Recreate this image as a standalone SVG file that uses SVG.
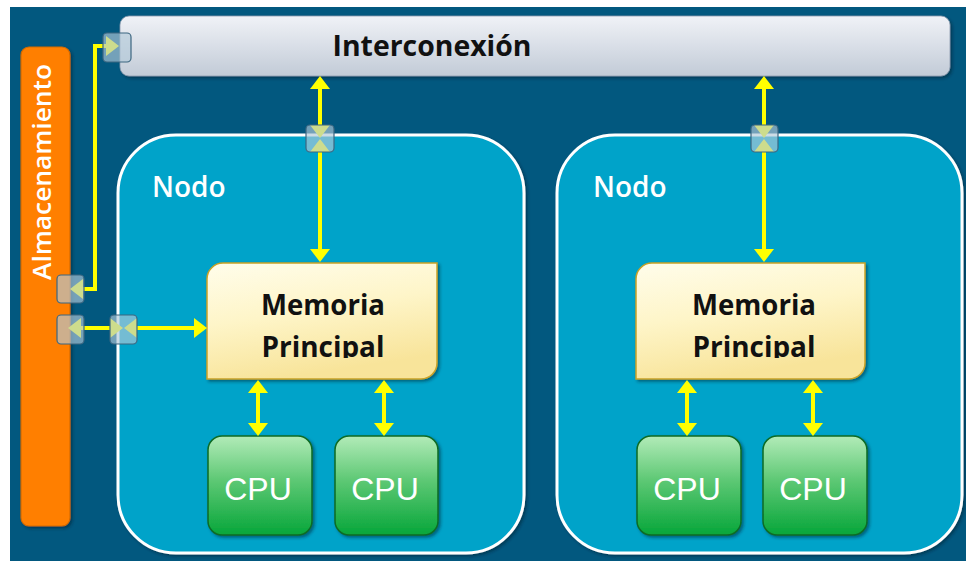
<svg xmlns="http://www.w3.org/2000/svg" width="966" height="561" viewBox="0 0 966 561">
  <defs>
    <linearGradient id="gBar" x1="0" y1="0" x2="0" y2="1">
      <stop offset="0" stop-color="#F0F2F7"/>
      <stop offset="1" stop-color="#C2CBD7"/>
    </linearGradient>
    <linearGradient id="gMem" x1="0" y1="0" x2="0.3" y2="1">
      <stop offset="0" stop-color="#FFFDEB"/>
      <stop offset="0.5" stop-color="#FEF5C8"/>
      <stop offset="1" stop-color="#F8E49A"/>
    </linearGradient>
    <linearGradient id="gCpu" x1="0" y1="0" x2="0" y2="1">
      <stop offset="0" stop-color="#B2EBB8"/>
      <stop offset="0.45" stop-color="#5DC874"/>
      <stop offset="1" stop-color="#07A63A"/>
    </linearGradient>
    <filter id="sh" x="-10%" y="-10%" width="125%" height="125%">
      <feDropShadow dx="2" dy="2" stdDeviation="1.5" flood-color="#002030" flood-opacity="0.5"/>
    </filter>
    <marker id="ah" markerUnits="userSpaceOnUse" markerWidth="14" markerHeight="20" refX="3" refY="10" orient="auto-start-reverse">
      <path d="M0,0 L13,10 L0,20 Z" fill="#FFFF00"/>
    </marker>
    <clipPath id="clipL"><rect x="207" y="263" width="231" height="95"/></clipPath>
    <clipPath id="clipR"><rect x="636" y="263" width="231" height="95"/></clipPath>
  </defs>
  <style>
    .node { fill: #00A3C9; stroke: #FFFFFF; stroke-width: 3; }
    .lbl { font-family: "Open Sans", "DejaVu Sans", sans-serif; font-weight: 600; }
    .bold { font-weight: 700; }
    .mem { fill: url(#gMem); stroke: #C9A227; stroke-width: 1.5; }
    .cpu { fill: url(#gCpu); stroke: #0B6B25; stroke-width: 1.5; }
    .cpuT { font-family: "Liberation Sans", Arial, sans-serif; font-size: 32px; fill: #FFFFFF; text-anchor: middle; }
    .memT { font-size: 28px; fill: #111111; text-anchor: middle; }
    .arr { fill: none; stroke: #FFFF00; stroke-width: 4; marker-start: url(#ah); marker-end: url(#ah); }
    .port { fill: #B2C9D8; fill-opacity: 0.65; stroke: #3C6680; stroke-width: 1.2; }
  </style>

  <rect x="10" y="7" width="956" height="554" fill="#02587F"/>

  <g id="interconexion">
    <rect x="120" y="16" width="830" height="60" rx="9" fill="url(#gBar)" stroke="#8C9BAE" stroke-width="0.8" filter="url(#sh)"/>
    <text class="lbl bold" x="432" y="56" font-size="28" fill="#111111" text-anchor="middle" textLength="199" lengthAdjust="spacingAndGlyphs">Interconexión</text>
  </g>

  <g id="almacenamiento">
    <rect x="21" y="47" width="49" height="479" rx="8" fill="#FF7F00" stroke="#D26A00" stroke-width="1.2" filter="url(#sh)"/>
    <text class="lbl" transform="translate(51,172) rotate(-90)" font-size="26" fill="#FFFFFF" text-anchor="middle" textLength="216" lengthAdjust="spacingAndGlyphs">Almacenamiento</text>
  </g>

  <g id="nodo1">
    <rect class="node" x="118" y="135" width="406" height="418" rx="58" filter="url(#sh)"/>
    <text class="lbl" x="152" y="197" font-size="28" fill="#FFFFFF">Nodo</text>
  </g>

  <g id="nodo2">
    <rect class="node" x="557" y="135" width="405" height="418" rx="58" filter="url(#sh)"/>
    <text class="lbl" x="593" y="197" font-size="28" fill="#FFFFFF">Nodo</text>
  </g>

  <g id="memoria1">
    <path class="mem" d="M207,279 A16,16 0 0 1 223,263 L437,263 L437,363 A16,16 0 0 1 421,379 L207,379 Z" filter="url(#sh)"/>
    <g clip-path="url(#clipL)">
      <text class="lbl bold memT" x="323" y="315" textLength="124" lengthAdjust="spacingAndGlyphs">Memoria</text>
      <text class="lbl bold memT" x="323" y="357" textLength="123" lengthAdjust="spacingAndGlyphs">Principal</text>
    </g>
  </g>

  <g id="memoria2">
    <path class="mem" d="M636,279 A16,16 0 0 1 652,263 L865,263 L865,363 A16,16 0 0 1 849,379 L636,379 Z" filter="url(#sh)"/>
    <g clip-path="url(#clipR)">
      <text class="lbl bold memT" x="754" y="315" textLength="124" lengthAdjust="spacingAndGlyphs">Memoria</text>
      <text class="lbl bold memT" x="754" y="357" textLength="123" lengthAdjust="spacingAndGlyphs">Principal</text>
    </g>
  </g>

  <g id="cpu1">
    <rect class="cpu" x="208" y="436" width="104" height="99" rx="14" filter="url(#sh)"/>
    <text class="cpuT" x="258" y="500">CPU</text>
  </g>
  <g id="cpu2">
    <rect class="cpu" x="335" y="436" width="103" height="99" rx="14" filter="url(#sh)"/>
    <text class="cpuT" x="385" y="500">CPU</text>
  </g>
  <g id="cpu3">
    <rect class="cpu" x="637" y="436" width="104" height="99" rx="14" filter="url(#sh)"/>
    <text class="cpuT" x="687" y="500">CPU</text>
  </g>
  <g id="cpu4">
    <rect class="cpu" x="763" y="436" width="104" height="99" rx="14" filter="url(#sh)"/>
    <text class="cpuT" x="813" y="500">CPU</text>
  </g>

  <g id="connectors">
    <path class="arr" d="M320,86 L320,128"/>
    <path class="arr" d="M320,149 L320,252"/>
    <path class="arr" d="M764,86 L764,128"/>
    <path class="arr" d="M764,149 L764,252"/>
    <path class="arr" d="M258,390 L258,426"/>
    <path class="arr" d="M384,390 L384,426"/>
    <path class="arr" d="M687,390 L687,426"/>
    <path class="arr" d="M813,390 L813,426"/>
    <path class="arr" d="M78,328 L113,328"/>
    <path class="arr" d="M134,328 L197,328"/>
    <path class="arr" d="M80,289 L95,289 L95,46 L109,46"/>

    <rect class="port" x="103" y="33" width="28" height="29" rx="4"/>
    <rect class="port" x="306" y="125" width="28" height="27" rx="4"/>
    <rect class="port" x="751" y="125" width="27" height="27" rx="4"/>
    <rect class="port" x="57" y="275" width="27" height="28" rx="4"/>
    <rect class="port" x="57" y="315" width="27" height="29" rx="4"/>
    <rect class="port" x="110" y="315" width="27" height="29" rx="4"/>
  </g>
</svg>
